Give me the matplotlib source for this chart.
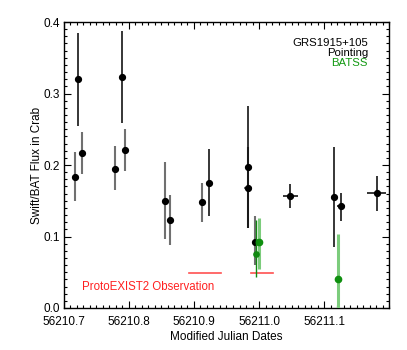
import numpy as np
import matplotlib
matplotlib.use("Agg")
import matplotlib.pyplot as plt
from matplotlib.ticker import MultipleLocator

plt.rcParams['font.family'] = ['Liberation Sans', 'DejaVu Sans']

# Swift/BAT orbit points (grey error bars)
grey_t = [56210.717, 56210.7273, 56210.778, 56210.794, 56210.8556, 56210.8638,
          56210.9128, 56210.9829, 56210.9941]
grey_f = [0.183, 0.217, 0.195, 0.221, 0.150, 0.123, 0.148, 0.168, 0.092]
grey_lo = [0.149, 0.188, 0.165, 0.192, 0.096, 0.088, 0.121, 0.112, 0.060]
grey_hi = [0.218, 0.246, 0.226, 0.251, 0.204, 0.158, 0.175, 0.225, 0.128]
grey_dt = [0, 0, 0, 0, 0, 0, 0, 0.006, 0]

# pointing points (black error bars)
blk_t = [56210.7216, 56210.7886, 56210.923, 56210.9829, 56211.0483,
         56211.1147, 56211.126, 56211.181]
blk_f = [0.320, 0.323, 0.175, 0.197, 0.157, 0.155, 0.142, 0.161]
blk_lo = [0.255, 0.259, 0.128, 0.112, 0.140, 0.085, 0.122, 0.136]
blk_hi = [0.384, 0.387, 0.222, 0.283, 0.173, 0.225, 0.161, 0.185]
blk_dt = [0, 0, 0, 0, 0.011, 0, 0.0057, 0.0144]

# BATSS
bats_t = [56210.9998, 56211.1215]
bats_f = [0.092, 0.040]
bats_lo = [0.0545, -0.025]
bats_hi = [0.126, 0.1035]
bats2_t = [56210.9957]
bats2_f = [0.076]
bats2_lo = [0.044]
bats2_hi = [0.123]

# ProtoEXIST2 observation windows
pe_start = [56210.892, 56210.9875]
pe_end = [56210.9418, 56211.021]
pe_level = 0.0494

fig = plt.figure(figsize=(4.07, 3.5), dpi=100)
ax = fig.add_axes([0.157, 0.12, 0.799, 0.817])

def err(f, lo, hi):
    f = np.array(f)
    return [f - np.array(lo), np.array(hi) - f]

ax.errorbar(grey_t, grey_f, yerr=err(grey_f, grey_lo, grey_hi), xerr=grey_dt,
            fmt='o', color='black', ecolor='#707070', elinewidth=1.5,
            markersize=4.2, capsize=0, zorder=3)
ax.errorbar(blk_t, blk_f, yerr=err(blk_f, blk_lo, blk_hi), xerr=blk_dt,
            fmt='o', color='black', ecolor='black', elinewidth=1.1,
            markersize=4.2, capsize=0, zorder=4)
ax.errorbar(bats_t, bats_f, yerr=err(bats_f, bats_lo, bats_hi),
            fmt='o', color='#0f8f0f', ecolor='#7ccc7c', elinewidth=2.2,
            markersize=4.5, capsize=0, zorder=5)
ax.errorbar(bats2_t, bats2_f, yerr=err(bats2_f, bats2_lo, bats2_hi),
            fmt='o', color='#118811', ecolor='#118811', elinewidth=1.0,
            markersize=3.8, capsize=0, zorder=6)

for s, e in zip(pe_start, pe_end):
    ax.plot([s, e], [pe_level, pe_level], color='#ff5050', lw=1.2, zorder=2)

ax.text(56210.728, 0.030, 'ProtoEXIST2 Observation', color='#ff2020',
        fontsize=8.3, va='center', ha='left')
ax.text(0.935, 0.9266, 'GRS1915+105', transform=ax.transAxes, ha='right', va='center', fontsize=8.2)
ax.text(0.935, 0.8916, 'Pointing', transform=ax.transAxes, ha='right', va='center', fontsize=8.2)
ax.text(0.935, 0.8566, 'BATSS', transform=ax.transAxes, ha='right', va='center', fontsize=8.2,
        color='#119911')

ax.set_xlim(56210.7, 56211.2)
ax.set_ylim(0.0, 0.4)
ax.xaxis.set_major_locator(MultipleLocator(0.1))
ax.xaxis.set_minor_locator(MultipleLocator(0.01))
ax.yaxis.set_major_locator(MultipleLocator(0.1))
ax.yaxis.set_minor_locator(MultipleLocator(0.01))
ax.ticklabel_format(useOffset=False)
ax.set_xticks([56210.7, 56210.8, 56210.9, 56211.0, 56211.1])
ax.set_xticklabels(['56210.7', '56210.8', '56210.9', '56211.0', '56211.1'])
ax.tick_params(which='both', direction='in', top=True, right=True, labelsize=8.5)
ax.tick_params(which='major', length=5, width=0.8)
ax.tick_params(which='minor', length=2.5, width=0.8)
ax.tick_params(axis='x', pad=6)
ax.tick_params(axis='y', pad=3)
for sp in ax.spines.values():
    sp.set_linewidth(1.0)

ax.set_xlabel('Modified Julian Dates', fontsize=8.5, labelpad=2)
ax.set_ylabel('Swift/BAT Flux in Crab', fontsize=8.5, labelpad=0)

fig.savefig('out.png', dpi=100)
